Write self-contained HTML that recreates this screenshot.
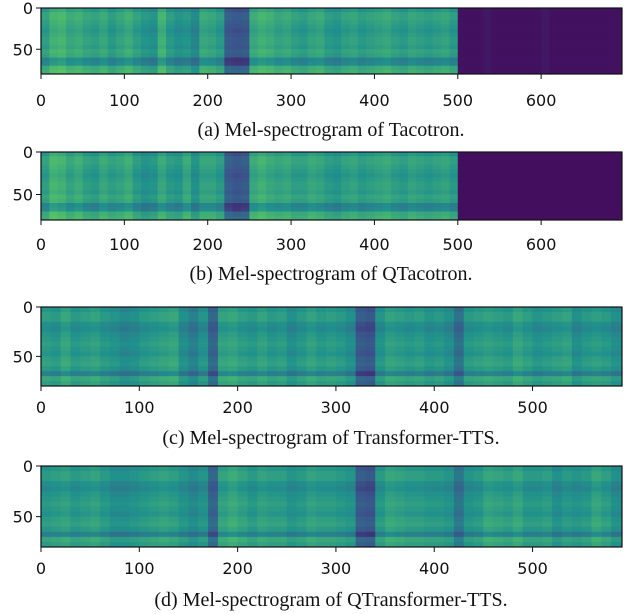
<!DOCTYPE html>
<html><head><meta charset="utf-8">
<style>
body{margin:0;background:#fff;width:626px;height:614px;overflow:hidden}
svg{display:block}
.tick{font-family:"DejaVu Sans",sans-serif;font-size:16px;fill:#111}
.cap{font-family:"Liberation Serif",serif;font-size:20px;fill:#111}
</style></head>
<body>
<svg id="fig" width="626" height="614"></svg>
<script>
// column intensity per 10-frame block (0..1 viridis level)
const colsA = [0.62,0.7,0.72,0.66,0.68,0.64,0.62,0.66,0.6,0.64,0.68,0.62,0.58,0.56,0.7,0.6,0.56,0.58,0.52,0.66,0.64,0.6,0.35,0.33,0.34,0.66,0.7,0.68,0.64,0.66,0.62,0.6,0.64,0.66,0.6,0.58,0.62,0.64,0.6,0.62,0.64,0.66,0.62,0.6,0.64,0.62,0.6,0.62,0.64,0.6,0.05,0.05,0.05,0.07,0.05,0.05,0.05,0.05,0.05,0.05,0.07,0.05,0.05,0.05,0.05,0.05,0.05,0.05,0.05,0.05];
const colsB = [0.62,0.72,0.7,0.64,0.68,0.62,0.6,0.66,0.62,0.64,0.68,0.6,0.56,0.58,0.66,0.6,0.58,0.66,0.56,0.64,0.64,0.6,0.36,0.33,0.35,0.66,0.7,0.66,0.64,0.66,0.62,0.62,0.66,0.64,0.6,0.58,0.62,0.64,0.6,0.62,0.64,0.66,0.62,0.6,0.64,0.62,0.6,0.62,0.64,0.6,0.04,0.04,0.04,0.04,0.04,0.04,0.04,0.04,0.04,0.04,0.04,0.04,0.04,0.04,0.04,0.04,0.04,0.04,0.04,0.04];
const colsC = [0.62,0.6,0.66,0.6,0.62,0.64,0.6,0.58,0.54,0.56,0.6,0.62,0.64,0.66,0.56,0.5,0.58,0.4,0.64,0.66,0.62,0.6,0.64,0.6,0.62,0.56,0.6,0.64,0.6,0.62,0.6,0.56,0.36,0.34,0.58,0.64,0.62,0.6,0.62,0.58,0.6,0.56,0.44,0.6,0.62,0.64,0.62,0.6,0.66,0.62,0.58,0.6,0.62,0.64,0.56,0.6,0.62,0.6,0.56];
const colsD = [0.6,0.62,0.64,0.6,0.62,0.64,0.6,0.56,0.56,0.58,0.6,0.62,0.64,0.62,0.58,0.54,0.58,0.4,0.64,0.68,0.64,0.6,0.64,0.62,0.62,0.58,0.6,0.64,0.62,0.62,0.6,0.58,0.36,0.34,0.6,0.66,0.64,0.62,0.62,0.6,0.6,0.58,0.46,0.58,0.6,0.66,0.64,0.62,0.66,0.6,0.6,0.62,0.56,0.6,0.58,0.6,0.66,0.62,0.56];
// row offset per 5-bin band (bins 0..80)
const rowsTaco = [-0.1,-0.04,-0.04,-0.06,-0.08,-0.1,-0.08,-0.06,-0.06,-0.08,-0.04,-0.06,-0.18,-0.16,-0.02,0.0];
const rowsTrans = [-0.1,-0.06,-0.06,-0.12,-0.14,-0.1,-0.08,-0.06,-0.08,-0.1,-0.06,-0.04,-0.08,-0.18,-0.02,-0.06];
const xTicksA = [0,100,200,300,400,500,600];
const xTicksC = [0,100,200,300,400,500];
const yTicks = [0,50];
const captions = ["(a) Mel-spectrogram of Tacotron.","(b) Mel-spectrogram of QTacotron.","(c) Mel-spectrogram of Transformer-TTS.","(d) Mel-spectrogram of QTransformer-TTS."];

const panels = [
 {name:'tacotron',cols:colsA,rows:rowsTaco,frames:697,top:8,bot:74,ticks:xTicksA,tickY:106,capY:136,cap:captions[0]},
 {name:'qtacotron',cols:colsB,rows:rowsTaco,frames:697,top:152,bot:220,ticks:xTicksA,tickY:250,capY:280,cap:captions[1]},
 {name:'transformer-tts',cols:colsC,rows:rowsTrans,frames:591,top:307,bot:386,ticks:xTicksC,tickY:413,capY:444,cap:captions[2]},
 {name:'qtransformer-tts',cols:colsD,rows:rowsTrans,frames:591,top:466,bot:547,ticks:xTicksC,tickY:574,capY:606,cap:captions[3]}
];
const stops=[[68,1,84],[59,82,139],[33,145,140],[94,201,98],[253,231,37]];
function viridis(v){v=Math.max(0,Math.min(1,v));const p=v*4,i=Math.min(3,Math.floor(p)),f=p-i;
 const a=stops[i],b=stops[i+1];return `rgb(${a.map((c,k)=>Math.round(c+(b[k]-c)*f)).join(',')})`;}
const NS='http://www.w3.org/2000/svg', svg=document.getElementById('fig');
function mk(t,at,par){const e=document.createElementNS(NS,t);for(const k in at)e.setAttribute(k,at[k]);(par||svg).appendChild(e);return e;}
const L=41,R=622;
panels.forEach(p=>{
 const g=mk('g',{});
 
 
 const xs=f=>L+(R-L)*f/p.frames, ys=b=>p.top+(p.bot-p.top)*b/80;
 p.cols.forEach((c,i)=>{
  const f0=i*10,f1=Math.min(p.frames,f0+10); if(f0>=p.frames)return;
  p.rows.forEach((r,j)=>{
   const v=c<0.1?c:c+r;
   const rc=mk('rect',{x:xs(f0),y:ys(j*5),width:xs(f1)-xs(f0)+0.5,height:ys(j*5+5)-ys(j*5)+0.5,fill:viridis(v)},g);
   
   
  });
 });
 const fr=mk('rect',{x:L,y:p.top,width:R-L,height:p.bot-p.top,fill:'none',stroke:'#111','stroke-width':1.2},g);
 
 
 p.ticks.forEach(t=>{
  const x=xs(t);
  mk('line',{x1:x,x2:x,y1:p.bot,y2:p.bot+5,stroke:'#111'},g);
  const tx=mk('text',{x:x,y:p.tickY,'text-anchor':'middle',class:'tick'},g);tx.textContent=t;
  
  
 });
 yTicks.forEach(t=>{
  const y=ys(t);
  mk('line',{x1:L-5,x2:L,y1:y,y2:y,stroke:'#111'},g);
  const tx=mk('text',{x:L-8,y:y+6,'text-anchor':'end',class:'tick'},g);tx.textContent=t;
  
  
 });
 const cp=mk('text',{x:331,y:p.capY,'text-anchor':'middle',class:'cap'},g);cp.textContent=p.cap;
 
 
});
</script>
</body></html>
